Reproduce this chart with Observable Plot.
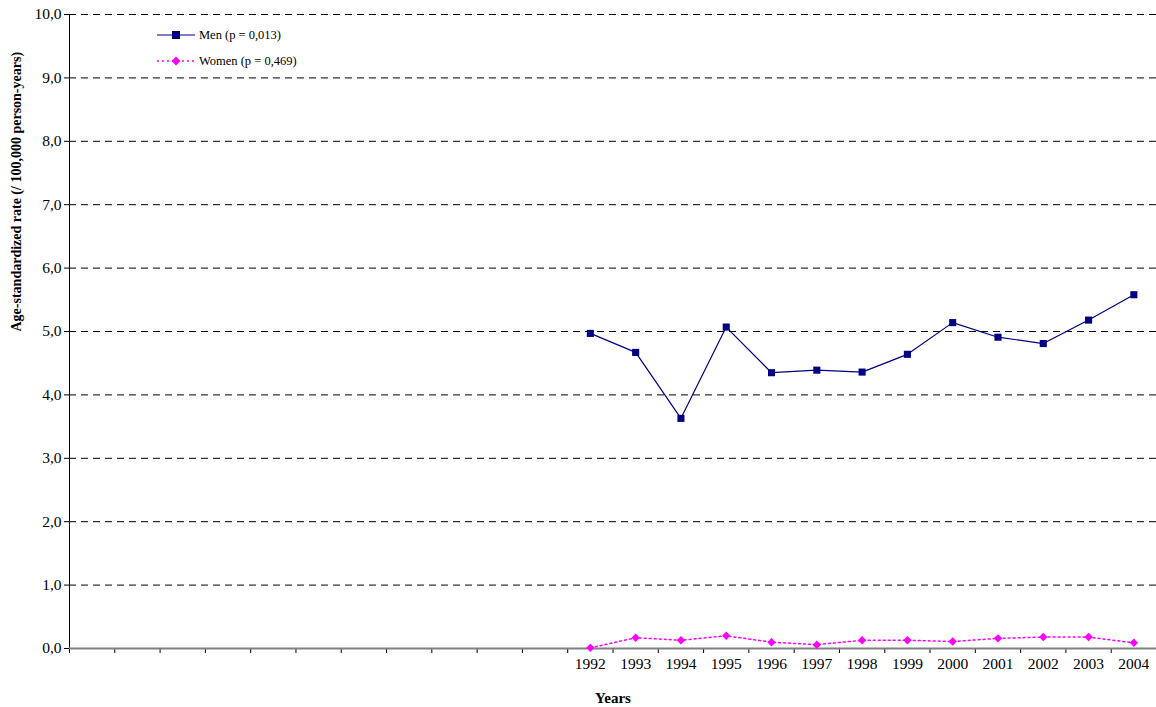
<!DOCTYPE html>
<html><head><meta charset="utf-8">
<script src="https://cdn.jsdelivr.net/npm/d3@7"></script>
<script src="https://cdn.jsdelivr.net/npm/@observablehq/plot@0.6"></script>
<style>
body{margin:0;background:#fff;}
#wrap{position:relative;width:1156px;height:707px;overflow:hidden;}
#wrap svg text{font-family:"Liberation Serif","Times New Roman",serif;}
#wrap svg g[aria-label="y-axis tick label"] text,
#wrap svg g[aria-label="x-axis tick label"] text{font-size:15.5px !important;}
#wrap svg .ytitle text{font-size:14px !important;font-weight:bold;}
#wrap svg .xtitle text{font-size:15px !important;font-weight:bold;}
.lg{position:absolute;left:157px;height:14px;display:flex;align-items:center;font-family:"Liberation Serif",serif;font-size:12.5px;color:#000;white-space:nowrap;}
.lg svg{margin-right:3px;}
</style></head><body><div id="wrap"></div>
<script>
const years = [1992,1993,1994,1995,1996,1997,1998,1999,2000,2001,2002,2003,2004];
const men   = [4.97,4.67,3.63,5.07,4.35,4.39,4.36,4.64,5.14,4.91,4.81,5.18,5.58];
const women = [0.01,0.17,0.13,0.20,0.10,0.06,0.13,0.13,0.11,0.16,0.18,0.18,0.09];
const emptySlots = 11; // unlabelled category slots before 1992
const yTicks = [0,1,2,3,4,5,6,7,8,9,10];
const seriesNames = ["Men (p = 0,013)", "Women (p = 0,469)"];
const seriesColors = ["#000080", "#FF00FF"];
const xTitle = "Years";
const yTitle = "Age-standardized rate (/ 100,000 person-years)";

const menData = years.map((y,i)=>({year:y, v:men[i]}));
const womenData = years.map((y,i)=>({year:y, v:women[i]}));
const x0 = years[0] - emptySlots - 0.5, x1 = years[years.length-1] + 0.5;
const boundaries = d3.range(x0, x1 + 0.01, 1);
const fmt = d => d.toFixed(1).replace(".", ",");

const chart = Plot.plot({
  width: 1156, height: 707,
  marginLeft: 69, marginRight: 0, marginTop: 14, marginBottom: 59,
  style: {fontFamily: '"Liberation Serif", serif', fontSize: "15px", background: "#fff", color: "#000"},
  x: {domain: [x0, x1], axis: null},
  y: {domain: [0, 10], axis: null},
  marks: [
    Plot.ruleY(yTicks.filter(d => d > 0), {stroke: "#000", strokeWidth: 1, strokeDasharray: "7,5"}),
    Plot.axisY(yTicks, {tickFormat: fmt, tickSize: 5, tickPadding: 3, fontSize: 15.5, label: null, stroke: "#000"}),
    Plot.ruleX([x0], {stroke: "#000", strokeWidth: 1}),
    Plot.axisX(boundaries, {tickFormat: () => "", tickSize: 5, label: null, stroke: "#000"}),
    Plot.ruleY([0], {stroke: "#808080", strokeWidth: 2}),
    Plot.axisX(years, {tickFormat: d => String(d), tickSize: 0, tickPadding: 9, fontSize: 15.5, label: null}),
    Plot.text([yTitle], {frameAnchor: "left", dx: -53, rotate: -90, fontWeight: "bold", fontSize: 14, fill: "#000", className: "ytitle"}),
    Plot.text([xTitle], {frameAnchor: "bottom", dy: 54, fontWeight: "bold", fontSize: 15, fill: "#000", className: "xtitle"}),
    Plot.line(menData, {x: "year", y: "v", stroke: seriesColors[0], strokeWidth: 1.2}),
    Plot.dot(menData, {x: "year", y: "v", symbol: "square", r: 4, fill: seriesColors[0], stroke: "none"}),
    Plot.line(womenData, {x: "year", y: "v", stroke: seriesColors[1], strokeWidth: 1.5, strokeDasharray: "2,3"}),
    Plot.dot(womenData, {x: "year", y: "v", symbol: "diamond2", r: 3.8, fill: seriesColors[1], stroke: "none"})
  ]
});
const wrap = document.getElementById("wrap");
wrap.appendChild(chart);

// legend overlay inside plot area (top-left)
const tops = [28, 54];
seriesNames.forEach((name, i) => {
  const div = document.createElement("div");
  div.className = "lg";
  div.style.top = tops[i] + "px";
  const marker = i === 0
    ? `<rect x="15" y="3" width="8" height="8" fill="${seriesColors[0]}"/>`
    : `<path d="M19,2.5 L23.5,7 L19,11.5 L14.5,7Z" fill="${seriesColors[1]}"/>`;
  const line = i === 0
    ? `<line x1="0" y1="7" x2="38" y2="7" stroke="${seriesColors[0]}" stroke-width="1.2"/>`
    : `<line x1="0" y1="7" x2="38" y2="7" stroke="${seriesColors[1]}" stroke-width="1.5" stroke-dasharray="2,3"/>`;
  div.innerHTML = `<svg width="39" height="14">${line}${marker}</svg><span>${name}</span>`;
  wrap.appendChild(div);
});
</script></body></html>
